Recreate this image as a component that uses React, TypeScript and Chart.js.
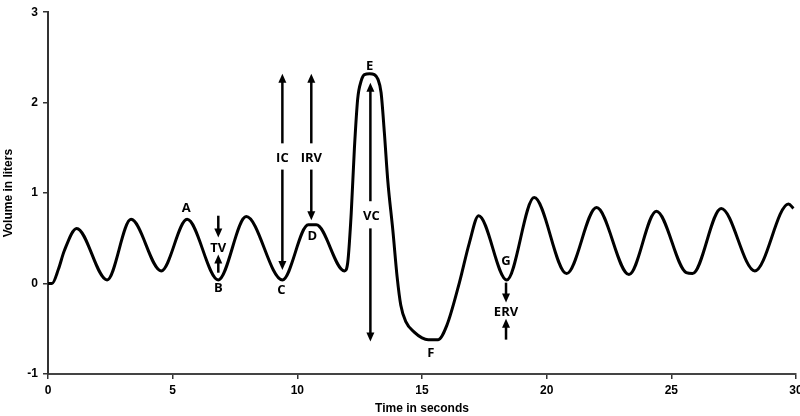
import React, { useEffect, useRef } from "react";
import { Chart, registerables } from "chart.js";

Chart.register(...registerables);

// Spirometer trace (time in seconds, volume in liters)
const timeSec = [0, 0.16, 0.42, 0.65, 1.15, 2.37, 3.33, 4.54, 5.58, 6.83, 7.95, 9.4, 10.44, 10.76, 11.89, 12.02, 12.16, 12.29, 12.42, 12.56, 12.69, 12.9, 13.09, 13.23, 13.36, 13.49, 13.63, 13.83, 14.0, 14.15, 14.35, 14.7, 15.0, 15.25, 15.65, 16.0, 16.5, 16.9, 17.27, 18.4, 19.5, 20.8, 22.0, 23.3, 24.4, 25.6, 25.85, 27.0, 28.35, 29.7, 29.9];
const volumeL = [0, 0, 0.16, 0.36, 0.61, 0.04, 0.71, 0.14, 0.71, 0.04, 0.74, 0.04, 0.65, 0.65, 0.14, 0.23, 0.77, 1.5, 2.04, 2.24, 2.31, 2.32, 2.31, 2.26, 2.11, 1.67, 1.13, 0.59, 0.08, -0.24, -0.42, -0.54, -0.6, -0.62, -0.62, -0.46, 0.01, 0.45, 0.75, 0.04, 0.95, 0.11, 0.84, 0.1, 0.8, 0.12, 0.11, 0.83, 0.14, 0.88, 0.83];

// Annotation labels
const labelText = ["A", "TV", "B", "C", "IC", "IRV", "D", "E", "VC", "F", "G", "ERV"];
const labelT = [5.54, 6.83, 6.83, 9.36, 9.4, 10.56, 10.6, 12.9, 12.97, 15.35, 18.37, 18.37];
const labelV = [0.83, 0.39, -0.05, -0.08, 1.39, 1.39, 0.52, 2.4, 0.74, -0.77, 0.25, -0.32];

// Arrows (tail -> head)
const arrowT = [6.83, 6.83, 9.4, 9.4, 10.56, 10.56, 12.93, 12.93, 18.37, 18.37];
const arrowFrom = [0.75, 0.12, 1.55, 1.26, 1.55, 1.26, 0.91, 0.61, 0.01, -0.62];
const arrowTo = [0.51, 0.32, 2.32, 0.15, 2.32, 0.7, 2.22, -0.64, -0.21, -0.39];

const xTicks = [0, 5, 10, 15, 20, 25, 30];
const yTicks = [-1, 0, 1, 2, 3];

const annotationPlugin = {
  id: "annotations",
  afterDatasetsDraw(chart: any) {
    const { ctx, scales } = chart;
    const xs = scales.x;
    const ys = scales.y;
    ctx.save();
    ctx.strokeStyle = "#000";
    ctx.fillStyle = "#000";
    ctx.lineWidth = 2.5;
    for (let i = 0; i < arrowT.length; i++) {
      const x = xs.getPixelForValue(arrowT[i]);
      const y1 = ys.getPixelForValue(arrowFrom[i]);
      const y2 = ys.getPixelForValue(arrowTo[i]);
      const dir = y2 > y1 ? 1 : -1;
      const head = 9;
      ctx.beginPath();
      ctx.moveTo(x, y1);
      ctx.lineTo(x, y2 - dir * head * 0.6);
      ctx.stroke();
      ctx.beginPath();
      ctx.moveTo(x, y2);
      ctx.lineTo(x - 4, y2 - dir * head);
      ctx.lineTo(x + 4, y2 - dir * head);
      ctx.closePath();
      ctx.fill();
    }
    ctx.font = 'bold 13px "Open Sans", "DejaVu Sans", sans-serif';
    ctx.textAlign = "center";
    ctx.textBaseline = "middle";
    for (let i = 0; i < labelText.length; i++) {
      ctx.fillText(labelText[i], xs.getPixelForValue(labelT[i]), ys.getPixelForValue(labelV[i]));
    }
    ctx.restore();
  },
};

const tickFont = { family: '"Liberation Sans Narrow", "Liberation Sans", Arial, sans-serif', size: 12, weight: "bold" as const };
const titleFont = { family: '"Liberation Sans Narrow", "Liberation Sans", Arial, sans-serif', size: 12, weight: "bold" as const };

export default function App() {
  const ref = useRef<HTMLCanvasElement | null>(null);
  useEffect(() => {
    document.body.style.margin = "0";
    if (!ref.current) return;
    const points = timeSec.map((t, i) => ({ x: t, y: volumeL[i] }));
    const chart = new Chart(ref.current, {
      type: "line",
      data: {
        datasets: [
          {
            data: points,
            borderColor: "#000",
            borderWidth: 3,
            pointRadius: 0,
            cubicInterpolationMode: "monotone",
            fill: false,
          },
        ],
      },
      options: {
        animation: false,
        responsive: true,
        maintainAspectRatio: false,
        layout: { padding: { top: 5, right: 4, left: 0, bottom: 0 } },
        plugins: { legend: { display: false }, tooltip: { enabled: false } },
        scales: {
          x: {
            type: "linear",
            min: 0,
            max: 30,
            afterBuildTicks: (s: any) => {
              s.ticks = xTicks.map((v) => ({ value: v }));
            },
            afterFit: (s: any) => {
              s.height = 42;
              s.paddingRight = 0;
              s.paddingLeft = 0;
            },
            ticks: { color: "#000", font: tickFont, padding: 4, maxRotation: 0 },
            grid: { drawOnChartArea: false, drawTicks: true, tickLength: 5, color: "#333", lineWidth: 1.5 },
            border: { display: true, color: "#444", width: 2 },
            title: { display: true, text: "Time in seconds", color: "#000", font: titleFont, padding: { top: 0, bottom: 0 } },
          },
          y: {
            type: "linear",
            min: -1,
            max: 3,
            afterBuildTicks: (s: any) => {
              s.ticks = yTicks.map((v) => ({ value: v }));
            },
            afterFit: (s: any) => {
              s.width = 48;
            },
            ticks: { color: "#000", font: tickFont, padding: 5 },
            grid: { drawOnChartArea: false, drawTicks: true, tickLength: 5, color: "#333", lineWidth: 1.5 },
            border: { display: true, color: "#333", width: 2 },
            title: { display: true, text: "Volume in liters", color: "#000", font: titleFont, padding: { top: 1, bottom: 0 } },
          },
        },
      },
      plugins: [annotationPlugin],
    });
    return () => chart.destroy();
  }, []);
  return (
    <div style={{ width: 800, height: 416, position: "relative" }}>
      <canvas ref={ref} />
    </div>
  );
}
